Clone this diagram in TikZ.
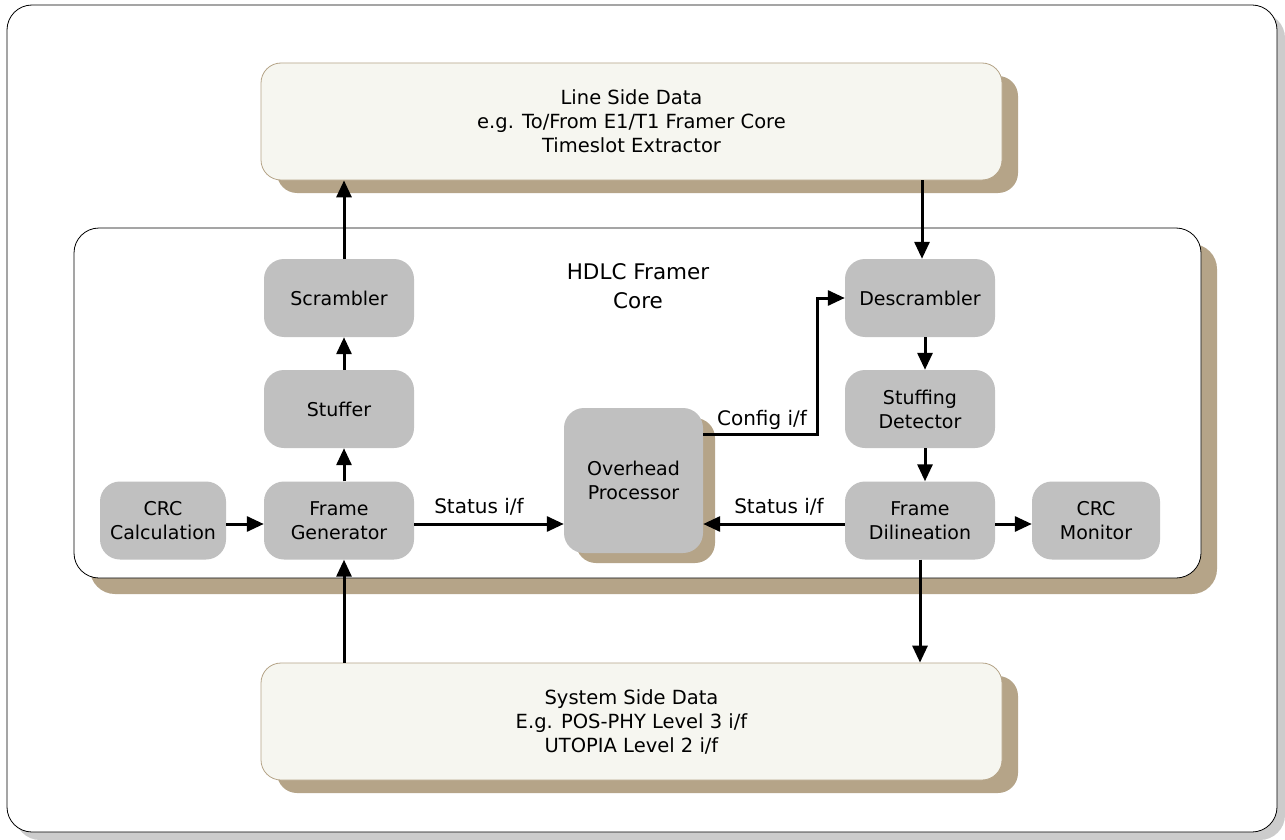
\documentclass[tikz,border=0pt]{standalone}
\usepackage{fontspec}
\setmainfont{DejaVu Sans}
\usetikzlibrary{arrows.meta,calc,shadows}
\definecolor{tanshadow}{HTML}{B5A488}
\definecolor{paleface}{HTML}{F6F6F0}
\definecolor{boxgray}{HTML}{C0C0C0}
\definecolor{framegray}{HTML}{CCCCCC}
\tikzset{
  bigbox/.style={draw=tanshadow, line width=0.8pt, fill=paleface, rounded corners=20pt,
    minimum width=741pt, minimum height=117pt, align=center, font=\fontsize{19.5}{24}\selectfont,
    drop shadow={shadow xshift=16pt, shadow yshift=-13pt, fill=tanshadow, opacity=1}},
  corebox/.style={draw=black, line width=0.8pt, fill=white, rounded corners=25pt,
    minimum width=1127pt, minimum height=350pt,
    drop shadow={shadow xshift=16pt, shadow yshift=-16pt, fill=tanshadow, opacity=1}},
  blk/.style={fill=boxgray, rounded corners=20pt, minimum width=150pt, minimum height=78pt,
    align=center, font=\fontsize{19}{24}\selectfont, inner sep=0pt},
  conn/.style={line width=3pt, -{Triangle[length=17pt,width=15pt]}},
  lbl/.style={font=\fontsize{20}{22}\selectfont, inner sep=0pt}
}
\begin{document}
\begin{tikzpicture}[x=1pt,y=-1pt]
\useasboundingbox (0,0) rectangle (1285,840);
% outer frame
\fill[framegray, rounded corners=25pt] (15,13) rectangle (1285,840);
\draw[fill=white, line width=0.8pt, rounded corners=25pt] (7,5) rectangle (1277,832);

% big boxes
\node[bigbox] (line) at (631.5,121.5) {Line Side Data\\e.g. To/From E1/T1 Framer Core\\Timeslot Extractor};
\node[corebox] (core) at (637.5,403) {};
\node[bigbox] (sys) at (631.5,721.5) {System Side Data\\E.g. POS-PHY Level 3 i/f\\UTOPIA Level 2 i/f};
\node[font=\fontsize{21.5}{29}\selectfont, align=center] (title) at (638,286) {HDLC Framer\\Core};

% blocks
\node[blk] (scr) at (339,298) {Scrambler};
\node[blk] (stf) at (339,409) {Stuffer};
\node[blk] (fg) at (339,520.5) {Frame\\Generator};
\node[blk, minimum width=126pt] (crc) at (163,520.5) {CRC\\Calculation};
\node[blk, minimum width=139pt, minimum height=145pt,
  drop shadow={shadow xshift=12pt, shadow yshift=-10pt, fill=tanshadow, opacity=1}] (ovh) at (633.5,480.5) {Overhead\\Processor};
\node[blk] (dsc) at (920,298) {Descrambler};
\node[blk] (sd) at (920,409) {Stuffing\\Detector};
\node[blk] (fd) at (920,520.5) {Frame\\Dilineation};
\node[blk, minimum width=128pt] (crm) at (1096,520.5) {CRC\\Monitor};

% connectors
\draw[conn] ([xshift=5pt]scr.north) -- ([xshift=5pt]scr.north |- line.south);
\draw[conn] ([xshift=5pt]stf.north) -- ([xshift=5pt]scr.south);
\draw[conn] ([xshift=5pt]fg.north) -- ([xshift=5pt]stf.south);
\draw[conn] ([xshift=5pt]fg.south |- sys.north) -- ([xshift=5pt]fg.south);
\draw[conn] ([yshift=-3.5pt]crc.east) -- ([yshift=-3.5pt]fg.west);
\draw[conn] ([yshift=-3.5pt]fg.east) -- ([yshift=-3.5pt]ovh.west |- fg.east);
\draw[conn] ([yshift=-3.5pt]fd.west) -- ([yshift=-3.5pt]ovh.east |- fd.west);
\draw[conn] ([yshift=-3.5pt]fd.east) -- ([yshift=-3.5pt]crm.west);
\draw[conn] ([xshift=2pt]dsc.north |- line.south) -- ([xshift=2pt]dsc.north);
\draw[conn] ([xshift=5pt]dsc.south) -- ([xshift=5pt]sd.north);
\draw[conn] ([xshift=5pt]sd.south) -- ([xshift=5pt]fd.north);
\draw[conn] (fd.south) -- (fd.south |- sys.north);
\coordinate (cfgbend) at (817,434);
\draw[conn] (ovh.east |- cfgbend) -- (cfgbend) |- (dsc.west);

% labels
\node[lbl] (st1) at (479,507) {Status i/f};
\node[lbl] (st2) at (779,507) {Status i/f};
\node[lbl] (cfg) at (762,420) {Config i/f};
\end{tikzpicture}
\end{document}
